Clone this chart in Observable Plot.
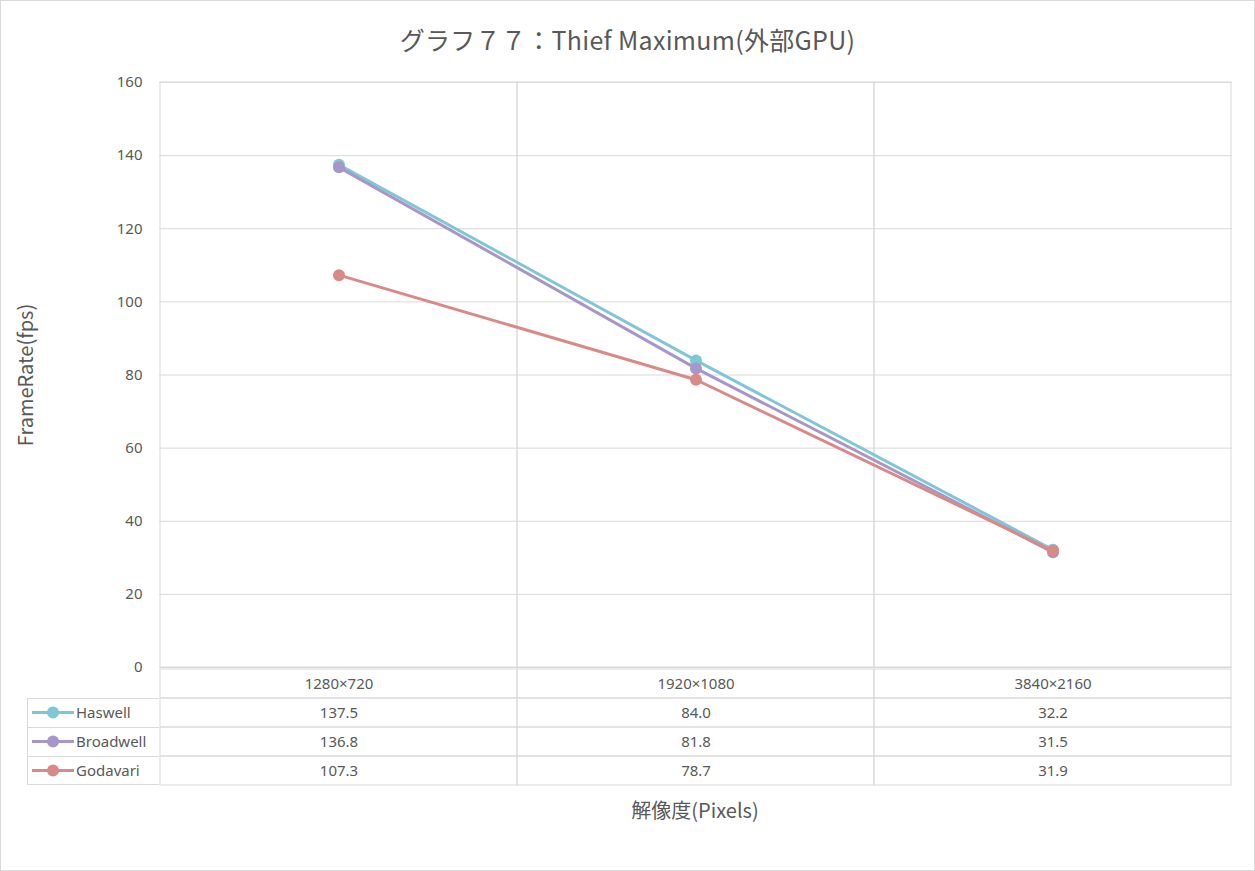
<!DOCTYPE html>
<html><head><meta charset="utf-8">
<script src="https://cdn.jsdelivr.net/npm/d3@7"></script>
<script src="https://cdn.jsdelivr.net/npm/@observablehq/plot@0.6"></script>
<style>
body{margin:0;background:#fff;}
#wrap{position:relative;width:1255px;height:871px;overflow:hidden;font-family:"Noto Sans CJK JP","Noto Sans",sans-serif;color:#595959;background:#fff;}
#frame{position:absolute;left:0px;top:0px;width:1253px;height:869px;border:1px solid #d9d9d9;}
#title{position:absolute;top:21px;left:0;width:1255px;text-align:center;font-size:25px;line-height:36px;color:#595959;letter-spacing:0.3px;}
#ylab{position:absolute;left:24px;top:375px;transform:translate(-50%,-50%) rotate(-90deg);font-size:20px;white-space:nowrap;}
#xlab{position:absolute;left:695px;top:809px;transform:translate(-50%,-50%);font-size:20px;white-space:nowrap;}
#chart{position:absolute;left:0;top:62px;}
#table{position:absolute;left:0;top:667px;}
</style></head>
<body><div id="wrap">
<div id="frame"></div>
<div id="title">グラフ７７：Thief Maximum(外部GPU)</div>
<div id="ylab">FrameRate(fps)</div>
<div id="xlab">解像度(Pixels)</div>
<div id="chart"></div>
<div id="table"></div>
</div>
<script>
const categories = ["1280×720", "1920×1080", "3840×2160"];
const series = ["Haswell", "Broadwell", "Godavari"];
const haswell = [137.5, 84.0, 32.2];
const broadwell = [136.8, 81.8, 31.5];
const godavari = [107.3, 78.7, 31.9];
const yTicks = [0, 20, 40, 60, 80, 100, 120, 140, 160];
const colors = ["#7fc6d7", "#a796c8", "#d98a87"];

const values = [haswell, broadwell, godavari];
const rows = series.flatMap((s, i) => categories.map((c, j) => ({series: s, cat: c, value: values[i][j], color: colors[i]})));
const grid = "#d9d9d9";
const font = '"Noto Sans","Noto Sans CJK JP",sans-serif';

const marks = [
  Plot.ruleY(yTicks, {stroke: grid, strokeWidth: 1}),
  Plot.cell(categories, {x: d => d, fill: "none", stroke: grid, strokeWidth: 1})
];
series.forEach((s, i) => {
  const d = rows.filter(r => r.series === s);
  marks.push(Plot.line(d, {x: "cat", y: "value", stroke: colors[i], strokeWidth: 3}));
  marks.push(Plot.dot(d, {x: "cat", y: "value", fill: colors[i], r: 6, stroke: "none"}));
});

const chart = Plot.plot({
  width: 1255, height: 606,
  marginTop: 20, marginBottom: 1, marginLeft: 159, marginRight: 23,
  style: {fontFamily: font, fontSize: "15px", color: "#595959", background: "transparent", overflow: "visible"},
  x: {type: "band", domain: categories, padding: 0, axis: null},
  y: {domain: [0, 160], ticks: yTicks, tickSize: 0, tickPadding: 17, label: null, axis: "left"},
  marks
});
document.getElementById("chart").append(chart);

const rowKeys = ["header", ...series];
const cells = rowKeys.flatMap(r => categories.map(c => ({row: r, cat: c})));
const table = Plot.plot({
  width: 1255, height: 120,
  marginTop: 0, marginBottom: 1, marginLeft: 159, marginRight: 23,
  style: {fontFamily: font, fontSize: "15px", color: "#595959", background: "transparent", overflow: "visible"},
  x: {type: "band", domain: categories, padding: 0, axis: null},
  y: {type: "band", domain: rowKeys, padding: 0, axis: null},
  marks: [
    Plot.cell(cells.filter(d => d.row !== "header"), {x: "cat", y: "row", fill: "none", stroke: grid, strokeWidth: 1}),
    Plot.cell(categories, {x: d => d, y: () => "header", fill: "none", stroke: grid, strokeWidth: 1}),
    Plot.text(categories, {x: d => d, y: () => "header", text: d => d, fill: "#595959", fontSize: 15}),
    Plot.text(rows, {x: "cat", y: "series", text: d => d.value.toFixed(1), fill: "#595959", fontSize: 15})
  ]
});
document.getElementById("table").append(table);

// legend column (left of table), positioned with the table's y scale
const ys = table.scale("y");
const bw = ys.bandwidth;
const svg = d3.select(table);
const g = svg.append("g").attr("text-anchor", "start");
const x0 = 27.5, x1 = 159;
series.forEach((s, i) => {
  const top = ys.apply(s);
  const cy = top + bw / 2;
  g.append("line").attr("x1", x0).attr("x2", x1).attr("y1", top + 0.5).attr("y2", top + 0.5).attr("stroke", grid);
  g.append("line").attr("x1", 32).attr("x2", 74).attr("y1", cy).attr("y2", cy).attr("stroke", colors[i]).attr("stroke-width", 3);
  g.append("circle").attr("cx", 53).attr("cy", cy).attr("r", 6).attr("fill", colors[i]);
  g.append("text").attr("x", 76).attr("y", cy).attr("dy", "0.35em").attr("text-anchor", "start").attr("fill", "#595959").attr("font-size", 15).text(s);
});
const lastBottom = ys.apply(series[series.length - 1]) + bw;
const firstTop = ys.apply(series[0]);
g.append("line").attr("x1", x0).attr("x2", x1).attr("y1", lastBottom - 0.5).attr("y2", lastBottom - 0.5).attr("stroke", grid);
g.append("line").attr("x1", x0).attr("x2", x0).attr("y1", firstTop).attr("y2", lastBottom).attr("stroke", grid);
</script>
</body></html>
